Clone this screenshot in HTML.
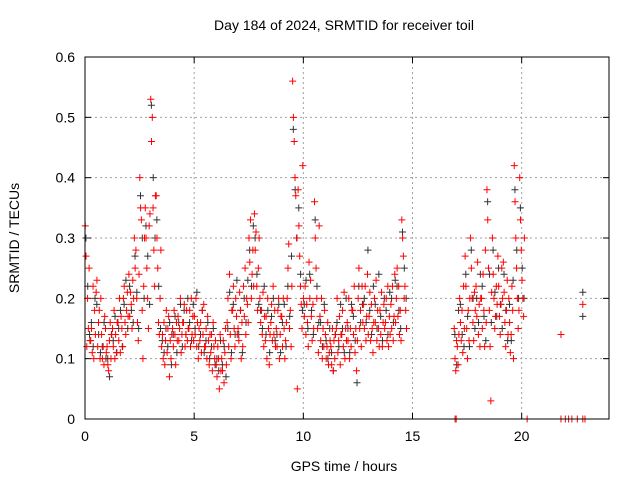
<!DOCTYPE html>
<html><head><meta charset="utf-8"><style>
body{margin:0;background:#fff;}
svg{display:block;font-family:"Liberation Sans",sans-serif;}
</style></head><body>
<svg id="chart" width="640" height="480" viewBox="0 0 640 480">
<rect width="640" height="480" fill="#fff"/>
<text x="344" y="30" font-size="14" text-anchor="middle">Day 184 of 2024, SRMTID for receiver toil</text>
<text transform="translate(19,238) rotate(-90)" font-size="14" text-anchor="middle">SRMTID / TECUs</text>
<text x="344" y="471" font-size="14" text-anchor="middle">GPS time / hours</text>
<g id="grid"></g>
<g id="black"></g>
<g id="red"></g>
<rect x="85" y="57" width="524" height="362" fill="none" stroke="#000" stroke-width="1"/>
</svg>
<script>
const xTicks=[0,5,10,15,20];
const yTicks=[0,0.1,0.2,0.3,0.4,0.5,0.6];
const yTickLabels=["0","0.1","0.2","0.3","0.4","0.5","0.6"];
const binStart=[0,0.25,0.5,0.75,1,1.25,1.5,1.75,2,2.25,2.5,2.75,3,3.25,3.5,3.75,4,4.25,4.5,4.75,5,5.25,5.5,5.75,6,6.25,6.5,6.75,7,7.25,7.5,7.75,8,8.25,8.5,8.75,9,9.25,9.5,9.75,10,10.25,10.5,10.75,11,11.25,11.5,11.75,12,12.25,12.5,12.75,13,13.25,13.5,13.75,14,14.25,14.5,16.9,17.15,17.4,17.65,17.9,18.15,18.4,18.65,18.9,19.15,19.4,19.65,19.9];
const redBins=[
[0.32,0.27,0.12,0.2,0.15,0.25,0.13],[0.13,0.15,0.11,0.22,0.1,0.18,0.14],[0.21,0.23,0.12,0.16,0.18,0.1,0.2],[0.14,0.1,0.12,0.09,0.17,0.15,0.11],
[0.12,0.09,0.08,0.13,0.16,0.1,0.14],[0.15,0.12,0.18,0.1,0.14,0.11,0.16],[0.16,0.13,0.2,0.11,0.17,0.15,0.12],[0.2,0.22,0.16,0.14,0.18,0.21,0.17],
[0.24,0.17,0.21,0.19,0.15,0.23,0.2],[0.3,0.25,0.28,0.2,0.16,0.13,0.24],[0.4,0.35,0.33,0.18,0.1,0.22,0.3],[0.35,0.3,0.25,0.2,0.15,0.32,0.34],
[0.53,0.46,0.5,0.35,0.28,0.22,0.37],[0.37,0.3,0.25,0.16,0.14,0.2,0.28],[0.12,0.14,0.1,0.16,0.09,0.13,0.18],[0.11,0.15,0.17,0.07,0.13,0.1,0.14],
[0.15,0.12,0.18,0.14,0.09,0.16,0.13],[0.17,0.13,0.15,0.2,0.11,0.14,0.16],[0.16,0.19,0.12,0.14,0.18,0.13,0.15],[0.15,0.18,0.12,0.2,0.14,0.17,0.13],
[0.17,0.14,0.2,0.12,0.16,0.1,0.15],[0.13,0.16,0.11,0.18,0.14,0.19,0.12],[0.12,0.15,0.1,0.17,0.13,0.09,0.14],[0.11,0.14,0.08,0.16,0.12,0.1,0.13],
[0.09,0.07,0.12,0.1,0.05,0.14,0.08],[0.1,0.08,0.13,0.06,0.11,0.15,0.09],[0.16,0.2,0.12,0.24,0.14,0.1,0.18],[0.18,0.22,0.15,0.12,0.2,0.17,0.14],
[0.15,0.13,0.21,0.18,0.1,0.16,0.12],[0.22,0.17,0.25,0.14,0.2,0.19,0.16],[0.3,0.26,0.33,0.2,0.24,0.28,0.22],[0.34,0.28,0.31,0.22,0.18,0.25,0.3],
[0.2,0.16,0.18,0.14,0.21,0.12,0.17],[0.13,0.17,0.1,0.2,0.15,0.09,0.14],[0.16,0.19,0.13,0.22,0.14,0.18,0.12],[0.15,0.12,0.18,0.2,0.1,0.14,0.17],
[0.17,0.12,0.2,0.15,0.1,0.13,0.16],[0.2,0.25,0.29,0.15,0.18,0.12,0.22],[0.56,0.5,0.46,0.4,0.37,0.3,0.05],[0.38,0.32,0.27,0.22,0.19,0.15,0.42],
[0.2,0.17,0.22,0.14,0.19,0.16,0.12],[0.26,0.2,0.23,0.17,0.13,0.19,0.15],[0.36,0.3,0.25,0.2,0.15,0.11,0.32],[0.17,0.13,0.2,0.1,0.15,0.12,0.18],
[0.14,0.1,0.12,0.16,0.09,0.11,0.13],[0.12,0.09,0.15,0.08,0.13,0.1,0.14],[0.15,0.2,0.11,0.13,0.17,0.09,0.14],[0.14,0.18,0.12,0.21,0.1,0.15,0.13],
[0.16,0.13,0.2,0.1,0.15,0.12,0.18],[0.18,0.14,0.22,0.11,0.15,0.08,0.13],[0.2,0.25,0.15,0.18,0.12,0.22,0.16],[0.19,0.15,0.22,0.13,0.17,0.24,0.14],
[0.17,0.21,0.13,0.19,0.15,0.11,0.16],[0.2,0.16,0.23,0.13,0.18,0.15,0.12],[0.18,0.14,0.21,0.12,0.16,0.19,0.15],[0.16,0.2,0.13,0.22,0.12,0.17,0.14],
[0.19,0.15,0.22,0.13,0.17,0.24,0.16],[0.2,0.25,0.17,0.22,0.14,0.18,0.13],[0.33,0.3,0.27,0.2,0.22,0.18,0.15],
[0.15,0.1,0.08,0.13,0.12,0.09,0.14],[0.2,0.16,0.13,0.18,0.11,0.22,0.15],[0.27,0.22,0.15,0.1,0.18,0.13,0.2],[0.3,0.25,0.2,0.16,0.13,0.21,0.18],
[0.22,0.17,0.26,0.14,0.19,0.12,0.2],[0.2,0.15,0.24,0.18,0.12,0.28,0.16],[0.38,0.33,0.25,0.18,0.12,0.03,0.21],[0.3,0.24,0.2,0.15,0.17,0.22,0.19],
[0.27,0.22,0.17,0.14,0.19,0.25,0.2],[0.26,0.21,0.16,0.12,0.18,0.23,0.14],[0.2,0.16,0.11,0.14,0.22,0.18,0.1],[0.42,0.36,0.3,0.25,0.2,0.15,0.18],
[0.4,0.33,0.28,0.23,0.2,0.17,0.3]];
const blackBins=[
[0.3,0.22,0.14],[0.16,0.12,0.2],[0.19,0.14,0.11],[0.12,0.16,0.1],[0.1,0.07,0.14],[0.13,0.17,0.11],[0.15,0.18,0.12],[0.19,0.23,0.15],
[0.22,0.18,0.16],[0.27,0.21,0.15],[0.37,0.3,0.2],[0.32,0.27,0.19],[0.52,0.4,0.3],[0.33,0.22,0.15],[0.13,0.11,0.15],[0.12,0.16,0.09],
[0.14,0.17,0.11],[0.16,0.19,0.12],[0.18,0.14,0.2],[0.16,0.13,0.19],[0.15,0.21,0.12],[0.14,0.18,0.11],[0.13,0.16,0.1],[0.12,0.15,0.09],
[0.1,0.08,0.13],[0.09,0.12,0.07],[0.15,0.21,0.11],[0.19,0.14,0.23],[0.14,0.18,0.11],[0.2,0.16,0.23],[0.28,0.22,0.32],[0.3,0.24,0.19],
[0.18,0.15,0.22],[0.14,0.18,0.11],[0.17,0.2,0.13],[0.14,0.19,0.11],[0.16,0.19,0.12],[0.22,0.17,0.27],[0.48,0.38,0.3],[0.35,0.24,0.18],
[0.19,0.23,0.15],[0.24,0.18,0.14],[0.33,0.22,0.16],[0.16,0.12,0.19],[0.13,0.1,0.15],[0.11,0.08,0.14],[0.16,0.12,0.19],[0.15,0.11,0.2],
[0.15,0.11,0.19],[0.17,0.13,0.06],[0.22,0.16,0.19],[0.2,0.16,0.28],[0.18,0.14,0.22],[0.19,0.15,0.24],[0.17,0.13,0.2],[0.18,0.14,0.21],
[0.2,0.16,0.23],[0.22,0.18,0.15],[0.31,0.25,0.2],
[0.14,0.09,0.18],[0.19,0.14,0.12],[0.24,0.17,0.12],[0.28,0.2,0.15],[0.2,0.16,0.24],[0.22,0.17,0.13],[0.36,0.24,0.16],[0.28,0.21,0.17],
[0.25,0.19,0.15],[0.24,0.18,0.13],[0.19,0.13,0.23],[0.38,0.28,0.2],[0.35,0.25,0.2]];
const extraRedT=[21.8,22.8,16.95,17.0,20.25,21.8,22.0,22.15,22.3,22.55,22.8,22.9];
const extraRedV=[0.14,0.19,0,0,0,0,0,0,0,0,0,0];
const extraBlackT=[22.8,22.8];
const extraBlackV=[0.21,0.17];

const X0=85,X1=609,Y0=419,Y1=57,XMAX=24,YMAX=0.6;
const xs=t=>X0+t/XMAX*(X1-X0);
const ys=v=>Y0-v/YMAX*(Y0-Y1);
const NS="http://www.w3.org/2000/svg";
const grid=document.getElementById('grid');
function mk(tag,attrs,parent){const e=document.createElementNS(NS,tag);for(const k in attrs)e.setAttribute(k,attrs[k]);parent.appendChild(e);return e;}
xTicks.forEach(t=>{
  const x=xs(t);
  if(t>0){const l=mk('line',{x1:x,x2:x,y1:Y1,y2:Y0,stroke:'#a0a0a0','stroke-dasharray':'2,3'},grid);
  
  }
  mk('line',{x1:x,x2:x,y1:Y0,y2:Y0-6,stroke:'#000'},grid);
  mk('line',{x1:x,x2:x,y1:Y1,y2:Y1+6,stroke:'#000'},grid);
  const tx=mk('text',{x:x,y:Y0+22,'font-size':'14','text-anchor':'middle'},grid);tx.textContent=t;
  
  
});
yTicks.forEach((v,i)=>{
  const y=ys(v);
  if(v>0&&v<YMAX){const l=mk('line',{x1:X0,x2:X1,y1:y,y2:y,stroke:'#a0a0a0','stroke-dasharray':'2,3'},grid);
  
  }
  mk('line',{x1:X0,x2:X0+6,y1:y,y2:y,stroke:'#000'},grid);
  mk('line',{x1:X1,x2:X1-6,y1:y,y2:y,stroke:'#000'},grid);
  const tx=mk('text',{x:X0-10,y:y+5,'font-size':'14','text-anchor':'end'},grid);tx.textContent=yTickLabels[i];
  
  
});
function plus(g,t,v,color){
  const x=xs(t),y=ys(v);
  const p=mk('path',{d:`M${x-3.5},${y}h7M${x},${y-3.5}v7`,stroke:color,'stroke-width':'1',fill:'none'},g);
  
  
}
const gb=document.getElementById('black'),gr=document.getElementById('red');
blackBins.forEach((b,i)=>b.forEach((v,j)=>plus(gb,binStart[i]+(j+0.5)*0.25/b.length,v,'#333')));
extraBlackT.forEach((t,i)=>plus(gb,t,extraBlackV[i],'#333'));
redBins.forEach((b,i)=>b.forEach((v,j)=>plus(gr,binStart[i]+(j+0.3)*0.25/b.length,v,'#f00')));
extraRedT.forEach((t,i)=>plus(gr,t,extraRedV[i],'#f00'));
</script>
</body></html>
